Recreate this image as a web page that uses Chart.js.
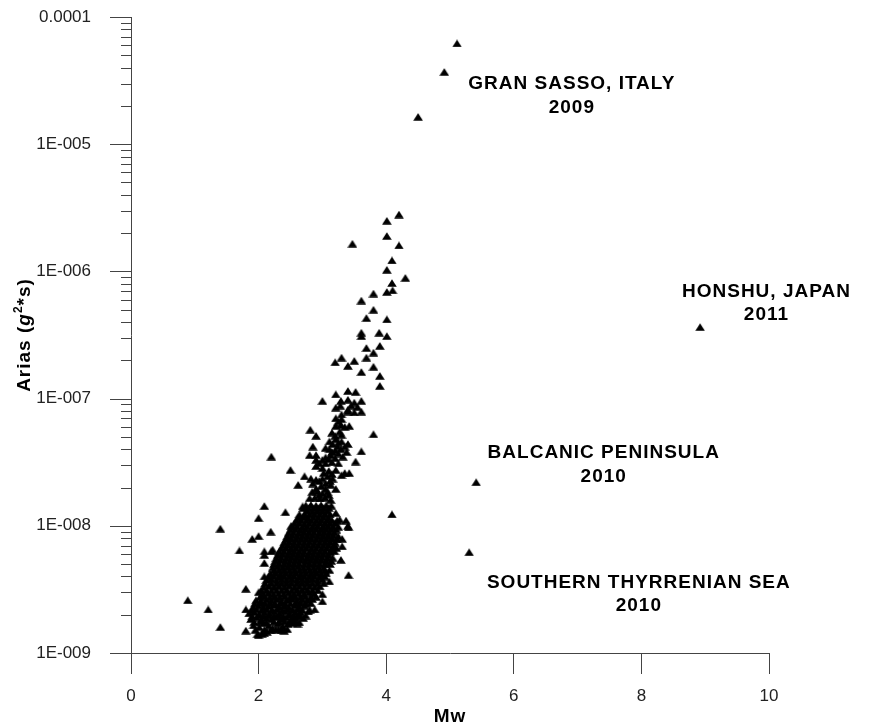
<!DOCTYPE html>
<html>
<head>
<meta charset="utf-8">
<title>Arias intensity vs Mw</title>
<script src="https://cdn.jsdelivr.net/npm/chart.js@4.4.1/dist/chart.umd.min.js"></script>
<style>
  body { margin: 0; background: #fff; }
  canvas { display: block; }
</style>
</head>
<body>
<canvas id="chart" width="876" height="728"></canvas>
<script>
// axis ticks
const xTicks = [0, 2, 4, 6, 8, 10];
const yMajor = [1e-9, 1e-8, 1e-7, 1e-6, 1e-5, 1e-4];
const yMajorLabels = ['1E-009', '1E-008', '1E-007', '1E-006', '1E-005', '0.0001'];
const yMinorMantissa = [2, 3, 4, 5, 6, 7, 8, 9];

// data points [Mw, Arias g^2*s]
const largeEvents = [
  [5.11, 6.2e-5], [4.91, 3.7e-5], [4.5, 1.64e-5],
  [8.92, 3.65e-7], [5.41, 2.2e-8], [5.3, 6.2e-9]
];

const upperBranch = [
  [4.2, 2.8e-6], [4.01, 2.5e-6], [4.01, 1.9e-6], [3.47, 1.65e-6], [4.2, 1.6e-6],
  [4.09, 1.22e-6], [4.01, 1.03e-6], [4.3, 8.9e-7], [4.09, 8.1e-7], [4.01, 6.9e-7],
  [4.1, 7.1e-7], [3.8, 6.7e-7], [3.61, 5.9e-7], [3.8, 5.0e-7], [3.69, 4.3e-7],
  [4.01, 4.2e-7], [3.61, 3.3e-7], [3.61, 3.1e-7], [3.89, 3.3e-7], [4.01, 3.1e-7],
  [3.9, 2.6e-7], [3.69, 2.5e-7], [3.8, 2.3e-7], [3.3, 2.1e-7], [3.2, 1.93e-7],
  [3.5, 1.98e-7], [3.4, 1.81e-7], [3.69, 2.1e-7], [3.8, 1.78e-7], [3.61, 1.62e-7],
  [3.9, 1.51e-7], [3.9, 1.26e-7], [3.21, 1.08e-7], [3.4, 1.15e-7], [3.52, 1.13e-7]
];

const middleBand = [
  [3.0, 9.6e-8], [3.29, 9.6e-8], [3.4, 9.8e-8], [3.5, 9.3e-8], [3.61, 9.6e-8],
  [3.21, 8.5e-8], [3.4, 8.2e-8], [3.4, 7.9e-8], [3.5, 7.8e-8], [3.61, 7.9e-8],
  [3.21, 7.0e-8], [3.3, 6.9e-8], [3.21, 6.1e-8], [3.29, 6.2e-8], [3.35, 6.0e-8],
  [3.42, 6.1e-8], [2.81, 5.7e-8], [2.9, 5.1e-8], [3.2, 5.1e-8], [3.15, 5.4e-8],
  [3.27, 5.5e-8], [3.8, 5.25e-8], [3.11, 4.6e-8], [3.21, 4.8e-8], [3.3, 4.6e-8],
  [3.4, 4.4e-8], [3.16, 4.4e-8], [3.24, 4.2e-8], [2.85, 4.2e-8], [3.11, 4.0e-8],
  [3.29, 4.0e-8], [3.05, 4.1e-8], [3.2, 3.9e-8], [3.38, 3.8e-8], [3.61, 3.85e-8],
  [3.13, 3.6e-8], [3.32, 3.5e-8], [2.9, 3.6e-8], [2.8, 3.6e-8], [3.05, 3.45e-8],
  [3.2, 3.4e-8], [2.9, 3.3e-8], [2.2, 3.5e-8], [3.52, 3.2e-8], [3.05, 3.1e-8],
  [3.15, 3.15e-8], [2.95, 3.1e-8], [3.25, 3.1e-8], [3.0, 2.85e-8], [2.9, 2.95e-8],
  [3.21, 2.75e-8], [3.1, 2.7e-8], [3.35, 2.6e-8], [3.42, 2.6e-8], [3.3, 2.5e-8],
  [2.5, 2.75e-8], [2.72, 2.45e-8], [2.62, 2.1e-8], [3.08, 2.45e-8], [2.9, 2.3e-8],
  [3.0, 2.35e-8], [3.16, 2.35e-8], [2.82, 2.35e-8], [2.98, 2.05e-8], [3.13, 2.1e-8],
  [3.05, 2.15e-8], [2.85, 2.15e-8], [3.21, 1.95e-8], [2.84, 1.85e-8], [2.92, 1.86e-8],
  [3.0, 1.8e-8], [3.08, 1.85e-8], [2.8, 1.65e-8], [2.88, 1.66e-8], [2.96, 1.64e-8],
  [3.04, 1.66e-8], [3.13, 1.6e-8],
  [2.95, 1.75e-8], [3.1, 1.75e-8], [2.9, 1.95e-8], [3.05, 1.95e-8], [3.12, 2.25e-8],
  [2.95, 2.25e-8], [3.02, 2.6e-8], [3.15, 2.55e-8], [3.0, 3.3e-8], [3.1, 3.35e-8],
  [3.25, 3.7e-8], [3.15, 3.8e-8], [3.25, 4.5e-8], [3.35, 4.2e-8], [3.3, 5.2e-8],
  [3.25, 6.6e-8], [3.3, 7.5e-8], [3.28, 8.8e-8], [3.45, 8.8e-8], [3.55, 8.6e-8]
];

const scattered = [
  [2.09, 1.43e-8], [2.0, 1.15e-8], [2.42, 1.28e-8], [2.69, 1.42e-8], [2.72, 1.22e-8],
  [3.21, 1.26e-8], [3.27, 1.12e-8], [3.4, 1.0e-8], [3.37, 1.1e-8], [2.51, 1.0e-8],
  [1.4, 9.5e-9], [4.09, 1.23e-8], [2.19, 9.0e-9], [1.9, 7.9e-9], [2.0, 8.3e-9],
  [1.7, 6.4e-9], [0.89, 2.6e-9], [1.21, 2.2e-9], [1.4, 1.6e-9], [1.8, 3.2e-9],
  [1.8, 2.2e-9], [1.8, 1.5e-9], [2.0, 1.38e-9], [2.09, 1.43e-9], [2.4, 1.5e-9],
  [2.22, 1.57e-9], [2.7, 1.88e-9], [2.88, 2.2e-9], [3.0, 2.55e-9], [3.0, 2.9e-9],
  [3.29, 5.4e-9], [3.41, 4.1e-9], [3.11, 3.65e-9], [3.11, 4.5e-9], [3.41, 9.7e-9],
  [3.31, 6.9e-9], [3.31, 7.9e-9], [3.19, 6.3e-9], [2.09, 5.9e-9], [2.09, 5.1e-9],
  [2.09, 4.0e-9], [2.0, 3.0e-9], [2.2, 6.3e-9], [2.22, 6.5e-9], [2.61, 1.7e-9],
  [2.09, 6.3e-9]
];

const lowerCore = [
  [1.98, 1.4e-9], [2.05, 1.42e-9], [2.13, 1.47e-9], [2.31, 1.54e-9],
  [1.92, 1.65e-9], [2.01, 1.6e-9], [2.08, 1.71e-9], [2.16, 1.64e-9], [2.3, 1.7e-9],
  [2.38, 1.62e-9], [2.46, 1.69e-9], [2.53, 1.73e-9],
  [1.88, 1.85e-9], [1.97, 1.9e-9], [2.04, 1.82e-9], [2.12, 1.88e-9], [2.2, 1.84e-9],
  [2.27, 1.91e-9], [2.35, 1.85e-9], [2.43, 1.9e-9], [2.51, 1.83e-9], [2.58, 1.88e-9],
  [2.66, 1.95e-9],
  [1.85, 2.05e-9], [1.93, 2.1e-9], [2.01, 2.02e-9], [2.09, 2.08e-9], [2.17, 2.04e-9],
  [2.25, 2.11e-9], [2.33, 2.05e-9], [2.41, 2.12e-9], [2.49, 2.03e-9], [2.57, 2.08e-9],
  [2.65, 2.1e-9], [2.78, 2.12e-9],
  [1.92, 2.3e-9], [2.0, 2.35e-9], [2.08, 2.28e-9], [2.16, 2.33e-9], [2.24, 2.38e-9],
  [2.32, 2.3e-9], [2.4, 2.34e-9], [2.48, 2.27e-9], [2.56, 2.36e-9], [2.64, 2.31e-9],
  [2.72, 2.35e-9],
  [1.96, 2.6e-9], [2.04, 2.55e-9], [2.12, 2.62e-9], [2.2, 2.58e-9], [2.28, 2.64e-9],
  [2.36, 2.56e-9], [2.44, 2.6e-9], [2.52, 2.66e-9], [2.6, 2.57e-9], [2.68, 2.62e-9],
  [2.76, 2.58e-9], [2.84, 2.66e-9],
  [2.07, 2.9e-9], [2.15, 2.96e-9], [2.23, 2.88e-9], [2.31, 2.94e-9], [2.39, 2.9e-9],
  [2.47, 2.97e-9], [2.55, 2.89e-9], [2.63, 2.95e-9], [2.71, 2.9e-9], [2.79, 2.98e-9],
  [2.87, 2.92e-9],
  [2.08, 3.3e-9], [2.16, 3.36e-9], [2.24, 3.28e-9], [2.32, 3.34e-9], [2.4, 3.3e-9],
  [2.48, 3.37e-9], [2.56, 3.28e-9], [2.64, 3.33e-9], [2.72, 3.3e-9], [2.8, 3.35e-9],
  [2.88, 3.29e-9], [2.96, 3.34e-9],
  [2.12, 3.75e-9], [2.2, 3.8e-9], [2.28, 3.72e-9], [2.36, 3.78e-9], [2.44, 3.74e-9],
  [2.52, 3.8e-9], [2.6, 3.73e-9], [2.68, 3.78e-9], [2.76, 3.75e-9], [2.84, 3.81e-9],
  [2.92, 3.72e-9], [3.0, 3.78e-9],
  [2.18, 4.2e-9], [2.26, 4.25e-9], [2.34, 4.18e-9], [2.42, 4.24e-9], [2.5, 4.2e-9],
  [2.58, 4.26e-9], [2.66, 4.18e-9], [2.74, 4.22e-9], [2.82, 4.2e-9], [2.9, 4.26e-9],
  [2.98, 4.18e-9], [3.06, 4.22e-9],
  [2.22, 4.7e-9], [2.3, 4.76e-9], [2.38, 4.68e-9], [2.46, 4.74e-9], [2.54, 4.7e-9],
  [2.62, 4.77e-9], [2.7, 4.68e-9], [2.78, 4.72e-9], [2.86, 4.7e-9], [2.94, 4.75e-9],
  [3.02, 4.68e-9],
  [2.26, 5.3e-9], [2.34, 5.36e-9], [2.42, 5.26e-9], [2.5, 5.32e-9], [2.58, 5.3e-9],
  [2.66, 5.37e-9], [2.74, 5.27e-9], [2.82, 5.33e-9], [2.9, 5.3e-9], [2.98, 5.35e-9],
  [3.06, 5.28e-9], [3.14, 5.3e-9],
  [2.3, 5.9e-9], [2.38, 5.96e-9], [2.46, 5.87e-9], [2.54, 5.93e-9], [2.62, 5.9e-9],
  [2.7, 5.97e-9], [2.78, 5.88e-9], [2.86, 5.92e-9], [2.94, 5.9e-9], [3.02, 5.95e-9],
  [3.1, 5.88e-9],
  [2.35, 6.6e-9], [2.43, 6.66e-9], [2.51, 6.57e-9], [2.59, 6.63e-9], [2.67, 6.6e-9],
  [2.75, 6.67e-9], [2.83, 6.58e-9], [2.91, 6.62e-9], [2.99, 6.6e-9], [3.07, 6.65e-9],
  [3.15, 6.58e-9], [3.22, 6.7e-9],
  [2.4, 7.4e-9], [2.48, 7.46e-9], [2.56, 7.37e-9], [2.64, 7.43e-9], [2.72, 7.4e-9],
  [2.8, 7.47e-9], [2.88, 7.38e-9], [2.96, 7.42e-9], [3.04, 7.4e-9], [3.12, 7.45e-9],
  [3.2, 7.38e-9],
  [2.45, 8.3e-9], [2.53, 8.36e-9], [2.61, 8.27e-9], [2.69, 8.33e-9], [2.77, 8.3e-9],
  [2.85, 8.37e-9], [2.93, 8.28e-9], [3.01, 8.32e-9], [3.09, 8.3e-9], [3.17, 8.35e-9],
  [3.25, 8.28e-9],
  [2.5, 9.3e-9], [2.58, 9.36e-9], [2.66, 9.27e-9], [2.74, 9.33e-9], [2.82, 9.3e-9],
  [2.9, 9.37e-9], [2.98, 9.28e-9], [3.06, 9.32e-9], [3.14, 9.3e-9], [3.22, 9.35e-9],
  [2.56, 1.04e-8], [2.64, 1.05e-8], [2.72, 1.03e-8], [2.8, 1.045e-8], [2.88, 1.04e-8],
  [2.96, 1.05e-8], [3.04, 1.035e-8], [3.12, 1.04e-8], [3.2, 1.05e-8],
  [2.62, 1.16e-8], [2.7, 1.17e-8], [2.78, 1.15e-8], [2.86, 1.165e-8], [2.94, 1.16e-8],
  [3.02, 1.17e-8], [3.1, 1.155e-8],
  [2.76, 1.31e-8], [2.84, 1.29e-8], [2.92, 1.305e-8], [3.0, 1.3e-8], [3.08, 1.31e-8],
  [2.74, 1.45e-8], [2.82, 1.46e-8], [2.9, 1.44e-8], [2.98, 1.455e-8], [3.06, 1.45e-8],
  [3.14, 1.44e-8]
];

// points packed in between the rows above (the solid part of the cloud)
const lowerCoreFill = [
  [1.95, 1.52e-9], [2.09, 1.53e-9], [2.19, 1.51e-9], [2.27, 1.53e-9], [2.36, 1.52e-9],
  [2.45, 1.54e-9],
  [1.93, 1.75e-9], [2.03, 1.76e-9], [2.12, 1.74e-9], [2.24, 1.76e-9], [2.33, 1.75e-9],
  [2.41, 1.77e-9], [2.5, 1.75e-9], [2.57, 1.76e-9], [2.64, 1.74e-9],
  [1.9, 1.95e-9], [2.0, 1.97e-9], [2.08, 1.95e-9], [2.16, 1.96e-9], [2.24, 1.94e-9],
  [2.31, 1.96e-9], [2.39, 1.95e-9], [2.47, 1.97e-9], [2.55, 1.95e-9], [2.62, 1.96e-9],
  [2.74, 1.97e-9],
  [1.89, 2.18e-9], [1.97, 2.2e-9], [2.05, 2.17e-9], [2.13, 2.19e-9], [2.21, 2.18e-9],
  [2.29, 2.2e-9], [2.37, 2.17e-9], [2.45, 2.19e-9], [2.53, 2.18e-9], [2.61, 2.2e-9],
  [2.69, 2.17e-9], [2.8, 2.19e-9],
  [1.94, 2.45e-9], [2.02, 2.47e-9], [2.1, 2.44e-9], [2.18, 2.46e-9], [2.26, 2.45e-9],
  [2.34, 2.47e-9], [2.42, 2.44e-9], [2.5, 2.46e-9], [2.58, 2.45e-9], [2.66, 2.47e-9],
  [2.74, 2.44e-9], [2.82, 2.46e-9],
  [2.02, 2.75e-9], [2.09, 2.77e-9], [2.17, 2.74e-9], [2.25, 2.76e-9], [2.33, 2.75e-9],
  [2.41, 2.77e-9], [2.49, 2.74e-9], [2.57, 2.76e-9], [2.65, 2.75e-9], [2.73, 2.77e-9],
  [2.81, 2.74e-9], [2.9, 2.76e-9],
  [2.04, 3.1e-9], [2.12, 3.12e-9], [2.2, 3.09e-9], [2.28, 3.11e-9], [2.36, 3.1e-9],
  [2.44, 3.12e-9], [2.52, 3.09e-9], [2.6, 3.11e-9], [2.68, 3.1e-9], [2.76, 3.12e-9],
  [2.84, 3.09e-9], [2.93, 3.11e-9],
  [2.1, 3.52e-9], [2.2, 3.54e-9], [2.28, 3.51e-9], [2.36, 3.53e-9], [2.44, 3.52e-9],
  [2.52, 3.54e-9], [2.6, 3.51e-9], [2.68, 3.53e-9], [2.76, 3.52e-9], [2.84, 3.54e-9],
  [2.92, 3.51e-9], [3.02, 3.53e-9],
  [2.16, 3.97e-9], [2.24, 3.99e-9], [2.32, 3.96e-9], [2.4, 3.98e-9], [2.48, 3.97e-9],
  [2.56, 3.99e-9], [2.64, 3.96e-9], [2.72, 3.98e-9], [2.8, 3.97e-9], [2.88, 3.99e-9],
  [2.96, 3.96e-9], [3.04, 3.98e-9],
  [2.24, 4.45e-9], [2.32, 4.47e-9], [2.4, 4.44e-9], [2.48, 4.46e-9], [2.56, 4.45e-9],
  [2.64, 4.47e-9], [2.72, 4.44e-9], [2.8, 4.46e-9], [2.88, 4.45e-9], [2.96, 4.47e-9],
  [3.04, 4.44e-9],
  [2.24, 5.0e-9], [2.32, 5.02e-9], [2.4, 4.98e-9], [2.48, 5.01e-9], [2.56, 5.0e-9],
  [2.64, 5.02e-9], [2.72, 4.98e-9], [2.8, 5.01e-9], [2.88, 5.0e-9], [2.96, 5.02e-9],
  [3.04, 4.98e-9], [3.12, 5.01e-9],
  [2.28, 5.6e-9], [2.36, 5.62e-9], [2.44, 5.58e-9], [2.52, 5.61e-9], [2.6, 5.6e-9],
  [2.68, 5.62e-9], [2.76, 5.58e-9], [2.84, 5.61e-9], [2.92, 5.6e-9], [3.0, 5.62e-9],
  [3.08, 5.58e-9], [3.16, 5.61e-9],
  [2.32, 6.25e-9], [2.4, 6.27e-9], [2.48, 6.23e-9], [2.56, 6.26e-9], [2.64, 6.25e-9],
  [2.72, 6.27e-9], [2.8, 6.23e-9], [2.88, 6.26e-9], [2.96, 6.25e-9], [3.04, 6.27e-9],
  [3.12, 6.23e-9],
  [2.38, 7.0e-9], [2.46, 7.02e-9], [2.54, 6.98e-9], [2.62, 7.01e-9], [2.7, 7.0e-9],
  [2.78, 7.02e-9], [2.86, 6.98e-9], [2.94, 7.01e-9], [3.02, 7.0e-9], [3.1, 7.02e-9],
  [3.18, 6.98e-9],
  [2.43, 7.85e-9], [2.51, 7.87e-9], [2.59, 7.83e-9], [2.67, 7.86e-9], [2.75, 7.85e-9],
  [2.83, 7.87e-9], [2.91, 7.83e-9], [2.99, 7.86e-9], [3.07, 7.85e-9], [3.15, 7.87e-9],
  [3.23, 7.83e-9],
  [2.47, 8.8e-9], [2.55, 8.82e-9], [2.63, 8.78e-9], [2.71, 8.81e-9], [2.79, 8.8e-9],
  [2.87, 8.82e-9], [2.95, 8.78e-9], [3.03, 8.81e-9], [3.11, 8.8e-9], [3.19, 8.82e-9],
  [2.53, 9.8e-9], [2.61, 9.82e-9], [2.69, 9.78e-9], [2.77, 9.81e-9], [2.85, 9.8e-9],
  [2.93, 9.82e-9], [3.01, 9.78e-9], [3.09, 9.81e-9], [3.17, 9.8e-9], [3.25, 9.82e-9],
  [2.59, 1.1e-8], [2.67, 1.102e-8], [2.75, 1.098e-8], [2.83, 1.101e-8], [2.91, 1.1e-8],
  [2.99, 1.102e-8], [3.07, 1.098e-8], [3.15, 1.101e-8], [3.23, 1.1e-8],
  [2.64, 1.23e-8], [2.72, 1.232e-8], [2.8, 1.228e-8], [2.88, 1.231e-8], [2.96, 1.23e-8],
  [3.04, 1.232e-8], [3.12, 1.228e-8],
  [2.7, 1.38e-8], [2.78, 1.382e-8], [2.86, 1.378e-8], [2.94, 1.381e-8], [3.02, 1.38e-8],
  [3.1, 1.382e-8]
];

// event labels: centre of first line in data units
const labelLines = [
  ['GRAN SASSO, ITALY', '2009'],
  ['HONSHU, JAPAN', '2011'],
  ['BALCANIC PENINSULA', '2010'],
  ['SOUTHERN THYRRENIAN SEA', '2010']
];
const labelMw = [6.91, 9.96, 7.41, 7.96];
const labelArias = [2.97e-5, 6.92e-7, 3.73e-8, 3.58e-9];

const FONT = '"Liberation Sans", Arial, sans-serif';

const allPoints = [].concat(largeEvents, upperBranch, middleBand, scattered, lowerCore, lowerCoreFill)
  .map(p => ({x: p[0], y: p[1]}));

function isMajor(v) {
  return yMajor.findIndex(m => Math.abs(Math.log10(m) - Math.log10(v)) < 1e-6);
}

// flat triangle marker like the original plot
const marker = document.createElement('canvas');
marker.width = 10;
marker.height = 8;
(function () {
  const c = marker.getContext('2d');
  c.fillStyle = '#000';
  c.beginPath();
  c.moveTo(5, 0.3);
  c.lineTo(9.8, 7.7);
  c.lineTo(0.2, 7.7);
  c.closePath();
  c.fill();
})();

// ticks, titles and event labels
const extras = {
  id: 'extras',
  afterDraw(chart) {
    const ctx = chart.ctx;
    const area = chart.chartArea;
    const xs = chart.scales.x, ys = chart.scales.y;
    ctx.save();
    ctx.strokeStyle = '#444';
    ctx.lineWidth = 1;
    ys.ticks.forEach(t => {
      const py = Math.round(ys.getPixelForValue(t.value)) + 0.5;
      const len = isMajor(t.value) >= 0 ? 21 : 10;
      ctx.beginPath();
      ctx.moveTo(area.left - len, py);
      ctx.lineTo(area.left + 0.5, py);
      ctx.stroke();
    });

    // event labels
    ctx.fillStyle = '#000';
    ctx.font = 'bold 19px ' + FONT;
    ctx.letterSpacing = '1px';
    ctx.textAlign = 'center';
    ctx.textBaseline = 'middle';
    labelLines.forEach((lines, i) => {
      const px = xs.getPixelForValue(labelMw[i]);
      const py = ys.getPixelForValue(labelArias[i]);
      lines.forEach((s, k) => ctx.fillText(s, px, py + k * 23.5));
    });

    // x title
    ctx.fillText('Mw', (area.left + area.right) / 2, 717);

    // y title, rotated, with italic g and superscript 2
    ctx.translate(25, (area.top + area.bottom) / 2);
    ctx.rotate(-Math.PI / 2);
    ctx.textAlign = 'left';
    const parts = [
      {t: 'Arias (', f: 'bold 19px ' + FONT, dy: 0},
      {t: 'g', f: 'italic bold 19px ' + FONT, dy: 0},
      {t: '2', f: 'bold 12px ' + FONT, dy: -6},
      {t: '*s)', f: 'bold 19px ' + FONT, dy: 0}
    ];
    let total = 0;
    parts.forEach(p => { ctx.font = p.f; p.w = ctx.measureText(p.t).width; total += p.w; });
    let cx = -total / 2;
    parts.forEach(p => { ctx.font = p.f; ctx.fillText(p.t, cx, p.dy); cx += p.w; });
    ctx.restore();
  }
};

const ctx = document.getElementById('chart').getContext('2d');
const chart = new Chart(ctx, {
  type: 'scatter',
  data: {
    datasets: [{
      data: allPoints,
      pointStyle: marker,
      radius: 5,
      backgroundColor: '#000',
      borderColor: '#000',
      borderWidth: 0
    }]
  },
  options: {
    responsive: false,
    animation: false,
    events: [],
    layout: {
      autoPadding: false,
      padding: {top: 17, right: 107, bottom: 0, left: 0}
    },
    plugins: {
      legend: {display: false},
      tooltip: {enabled: false}
    },
    scales: {
      x: {
        type: 'linear',
        min: 0,
        max: 10,
        afterBuildTicks: s => { s.ticks = xTicks.map(v => ({value: v})); },
        afterFit: s => {
          s.height = 75;
          s.paddingLeft = 0; s.paddingRight = 0;
          s.paddingTop = 0; s.paddingBottom = 0;
        },
        grid: {drawOnChartArea: false, tickLength: 21, tickColor: '#444'},
        border: {color: '#444'},
        ticks: {
          color: '#222',
          font: {size: 17, family: FONT},
          padding: 12
        }
      },
      y: {
        type: 'logarithmic',
        min: 1e-9,
        max: 1e-4,
        afterBuildTicks: s => {
          const t = yMajor.map(v => ({value: v}));
          for (let e = -9; e <= -5; e++) {
            yMinorMantissa.forEach(m => t.push({value: m * Math.pow(10, e)}));
          }
          t.sort((a, b) => a.value - b.value);
          s.ticks = t;
        },
        afterFit: s => {
          s.width = 131;
          s.paddingTop = 0; s.paddingBottom = 0;
          s.paddingLeft = 0; s.paddingRight = 0;
        },
        grid: {display: false},
        border: {display: true, color: '#444'},
        ticks: {
          autoSkip: false,
          color: '#222',
          font: {size: 17, family: FONT},
          padding: 32,
          callback: v => {
            const k = isMajor(v);
            return k >= 0 ? yMajorLabels[k] : '';
          }
        }
      }
    }
  },
  plugins: [extras]
});
</script>
</body>
</html>
